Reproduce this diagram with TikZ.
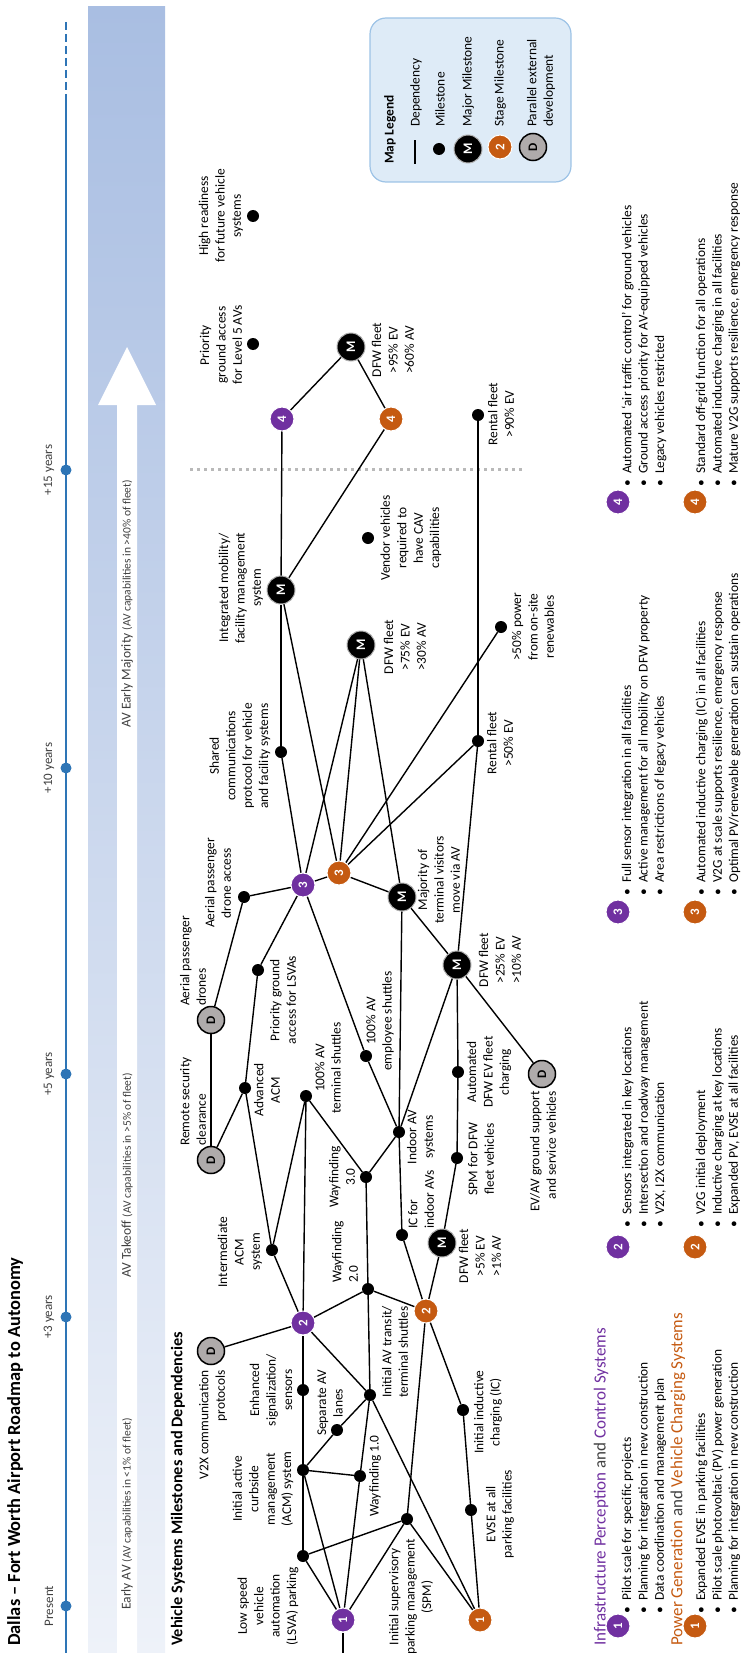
\documentclass[tikz,border=0pt]{standalone}
\usepackage{fontspec}
\setmainfont{Carlito}
\usepackage{xcolor}

\definecolor{purp}{HTML}{7030A0}
\definecolor{orng}{HTML}{C55A11}
\definecolor{tlblue}{HTML}{2E75B6}
\definecolor{legfill}{HTML}{DEEBF7}
\definecolor{legline}{HTML}{9DC3E6}
\definecolor{extgray}{HTML}{AFABAB}
\definecolor{darktext}{HTML}{404040}
\definecolor{bandtop}{HTML}{A9BEE2}
\definecolor{bandbot}{HTML}{EEF2F9}

\newcommand{\bitem}{\makebox[13pt][l]{\textbullet}}

\tikzset{
    txt/.style={rotate=90, align=center, inner sep=0pt, font=\fontsize{13.4}{16.4}\selectfont},
    bul/.style={txt, anchor=west, align=left},
    band/.style={txt, anchor=west, text=darktext, font=\fontsize{13.5}{14}\selectfont},
    ms/.style={circle, fill=black, minimum size=12pt, inner sep=0pt},
    major/.style={circle, fill=black, draw=gray!60, line width=1pt, minimum size=28pt, inner sep=0pt,
        rotate=90, text=white, font=\bfseries\fontsize{13}{13}\selectfont},
    stagep/.style={circle, fill=purp, draw=white, line width=1pt, minimum size=24pt, inner sep=0pt,
        rotate=90, text=white, font=\bfseries\fontsize{13}{13}\selectfont},
    stageo/.style={stagep, fill=orng},
    ext/.style={circle, fill=extgray, draw=black, line width=1.5pt, minimum size=27pt, inner sep=0pt,
        rotate=90, font=\bfseries\fontsize{13}{13}\selectfont},
    tldot/.style={circle, fill=tlblue, minimum size=11pt, inner sep=0pt},
    tl/.style={tlblue, line width=2pt},
    dep/.style={line width=1.4pt},
    legbox/.style={rounded corners=16pt, fill=legfill, draw=legline, line width=1.2pt}
}

\begin{document}
\begin{tikzpicture}[x=1pt, y=-1pt]
    \useasboundingbox (0,0) rectangle (740,1653);

    % Adoption band and white arrow
    \shade[top color=bandtop, bottom color=bandbot] (88,7) rectangle (165,1653);
    \fill[white] (117,1653) -- (117,405) -- (98,405) -- (127,347) -- (156,405) -- (137,405) -- (137,1653) -- cycle;
    \node[band] (early) at (127,1610) {Early AV {\fontsize{11.5}{12}\selectfont(AV capabilities in <1\% of fleet)}};
    \node[band] (takeoff) at (127,1278) {AV Takeoff {\fontsize{11.5}{12}\selectfont(AV capabilities in >5\% of fleet)}};
    \node[band] (majority) at (127,728) {AV Early Majority {\fontsize{11.5}{12}\selectfont(AV capabilities in >40\% of fleet)}};

    % Timeline
    \coordinate (tltop) at (66,22);
    \coordinate (tlmid) at (66,95);
    \coordinate (tlbot) at (66,1653);
    \draw[tl, dash pattern=on 8pt off 4pt] (tltop) -- (tlmid);
    \draw[tl] (tlmid) -- (tlbot);
    \node[tldot] (t0) at (66,1606) {};
    \node[tldot] (t3) at (66,1317) {};
    \node[tldot] (t5) at (66,1074) {};
    \node[tldot] (t10) at (66,768) {};
    \node[tldot] (t15) at (66,470) {};
    \node[txt, text=darktext, font=\fontsize{13}{14}\selectfont] (t0l) at (49,1606) {Present};
    \node[txt, text=darktext, font=\fontsize{13}{14}\selectfont] (t3l) at (49,1317) {+3 years};
    \node[txt, text=darktext, font=\fontsize{13}{14}\selectfont] (t5l) at (49,1074) {+5 years};
    \node[txt, text=darktext, font=\fontsize{13}{14}\selectfont] (t10l) at (49,768) {+10 years};
    \node[txt, text=darktext, font=\fontsize{13}{14}\selectfont] (t15l) at (49,470) {+15 years};

    % Titles
    \node[txt, anchor=west, font=\bfseries\fontsize{18.4}{20}\selectfont] (title) at (15,1646) {Dallas -- Fort Worth Airport Roadmap to Autonomy};
    \node[txt, anchor=west, font=\bfseries\fontsize{16.3}{18}\selectfont] (vsmd) at (178,1646) {Vehicle Systems Milestones and Dependencies};

    % +15 years divider
    \draw[gray!55, line width=3pt, dash pattern=on 3pt off 4pt] (190,469) -- (525,469);

    % Map legend
    \draw[legbox] (370,18) rectangle (571,182);
    \node[txt, anchor=west, font=\bfseries\fontsize{13.4}{16}\selectfont] (legtitle) at (390,164) {Map Legend};
    \coordinate (lga) at (415,164);
    \coordinate (lgb) at (415,140);
    \draw[dep] (lga) -- (lgb);
    \node[ms] (lgms) at (439,149) {};
    \node[major] (lgmaj) at (468,149) {M};
    \node[stageo] (lgstage) at (500,147) {2};
    \node[ext] (lgext) at (533,147) {D};
    \node[txt, anchor=west] (lgt1) at (416,127) {Dependency};
    \node[txt, anchor=west] (lgt2) at (440,127) {Milestone};
    \node[txt, anchor=west] (lgt3) at (468,127) {Major Milestone};
    \node[txt, anchor=west] (lgt4) at (500,127) {Stage Milestone};
    \node[txt, anchor=west, align=left] (lgt5) at (541,127) {Parallel external\\development};

    % Milestones
    \coordinate (start) at (343,1653);
    \node[stagep] (p1) at (343,1620) {1};
    \node[stageo] (o1) at (480,1620) {1};
    \node[ms] (lsva) at (303,1556) {};
    \node[ms] (acm) at (303,1470) {};
    \node[ms] (sig) at (303,1390) {};
    \node[ext] (v2x) at (211,1351) {D};
    \node[stagep] (p2) at (303,1323) {2};
    \node[ms] (lanes) at (337,1430) {};
    \node[ms] (wf1) at (360,1476) {};
    \node[ms] (spm) at (407,1519) {};
    \node[ms] (avt) at (370,1395) {};
    \node[ms] (wf2) at (368,1289) {};
    \node[stageo] (o2) at (426,1311) {2};
    \node[ms] (ic) at (463,1410) {};
    \node[ms] (evse) at (471,1510) {};
    \node[ms] (iacm) at (272,1250) {};
    \node[major] (fleet5) at (442,1243) {M};
    \node[ms] (icin) at (402,1235) {};
    \node[stagep] (p3) at (303,885) {3};
    \node[stageo] (o3) at (339,873) {3};
    \node[ms] (droneacc) at (244,897) {};
    \node[major] (visit) at (402,897) {M};
    \node[major] (fleet25) at (457,965) {M};
    \node[ext] (drones) at (211,1020) {D};
    \node[ms] (prio) at (258,970) {};
    \node[ext] (secur) at (211,1160) {D};
    \node[ms] (aacm) at (245,1088) {};
    \node[ms] (shut) at (306,1096) {};
    \node[ms] (emp) at (366,1056) {};
    \node[ms] (wf3) at (366,1177) {};
    \node[ms] (indoor) at (399,1132) {};
    \node[ms] (spmdfw) at (457,1158) {};
    \node[ms] (charge) at (458,1072) {};
    \node[ext] (gse) at (542,1074) {D};
    \node[stagep] (p4) at (282,419) {4};
    \node[stageo] (o4) at (391,419) {4};
    \node[ms] (rent90) at (478,415) {};
    \node[major] (imfm) at (281,590) {M};
    \node[ms] (vendor) at (368,538) {};
    \node[major] (fleet75) at (361,645) {M};
    \node[ms] (power) at (501,627) {};
    \node[ms] (shared) at (281,752) {};
    \node[ms] (rent50) at (478,741) {};
    \node[ms] (ready) at (253,216) {};
    \node[ms] (lvl5) at (253,344) {};
    \node[major] (fleet95) at (351,347) {M};

    % Dependencies
    \draw[dep] (start) -- (p1);
    \draw[dep] (p1) -- (lsva);
    \draw[dep] (p1) -- (acm);
    \draw[dep] (p1) -- (wf1);
    \draw[dep] (p1) -- (spm);
    \draw[dep] (lsva) -- (acm);
    \draw[dep] (acm) -- (sig);
    \draw[dep] (sig) -- (p2);
    \draw[dep] (lsva) -- (spm);
    \draw[dep] (acm) -- (wf1);
    \draw[dep] (acm) -- (lanes);
    \draw[dep] (lanes) -- (avt);
    \draw[dep] (wf1) -- (avt);
    \draw[dep] (p2) -- (avt);
    \draw[dep] (avt) -- (o1);
    \draw[dep] (spm) -- (o1);
    \draw[dep] (spm) -- (o2);
    \draw[dep] (avt) -- (wf2);
    \draw[dep] (wf2) -- (p2);
    \draw[dep] (wf2) -- (o2);
    \draw[dep] (wf2) -- (wf3);
    \draw[dep] (o1) -- (evse);
    \draw[dep] (evse) -- (ic);
    \draw[dep] (ic) -- (o2);
    \draw[dep] (o2) -- (icin);
    \draw[dep] (o2) -- (fleet5);
    \draw[dep] (p2) -- (iacm);
    \draw[dep] (p2) -- (v2x);
    \draw[dep] (p2) -- (shut);
    \draw[dep] (iacm) -- (aacm);
    \draw[dep] (iacm) -- (shut);
    \draw[dep] (aacm) -- (secur);
    \draw[dep] (aacm) -- (prio);
    \draw[dep] (prio) -- (p3);
    \draw[dep] (secur) -- (drones);
    \draw[dep] (drones) -- (droneacc);
    \draw[dep] (droneacc) -- (p3);
    \draw[dep] (shut) -- (wf3);
    \draw[dep] (wf3) -- (indoor);
    \draw[dep] (indoor) -- (emp);
    \draw[dep] (emp) -- (p3);
    \draw[dep] (indoor) -- (visit);
    \draw[dep] (indoor) -- (icin);
    \draw[dep] (indoor) -- (fleet25);
    \draw[dep] (visit) -- (fleet25);
    \draw[dep] (fleet25) -- (gse);
    \draw[dep] (fleet25) -- (charge);
    \draw[dep] (charge) -- (spmdfw);
    \draw[dep] (spmdfw) -- (fleet5);
    \draw[dep] (p3) -- (o3);
    \draw[dep] (o3) -- (visit);
    \draw[dep] (fleet25) -- (rent50);
    \draw[dep] (fleet75) -- (visit);
    \draw[dep] (fleet75) -- (p3);
    \draw[dep] (fleet75) -- (o3);
    \draw[dep] (imfm) -- (o3);
    \draw[dep] (power) -- (o3);
    \draw[dep] (rent50) -- (o3);
    \draw[dep] (shared) -- (p3);
    \draw[dep] (shared) -- (imfm);
    \draw[dep] (imfm) -- (p4);
    \draw[dep] (imfm) -- (o4);
    \draw[dep] (rent50) -- (rent90);
    \draw[dep] (p4) -- (fleet95);
    \draw[dep] (o4) -- (fleet95);

    % Milestone labels
    \node[txt] (lsva-t) at (268,1606) {Low speed\\vehicle\\automation\\(LSVA) parking};
    \node[txt] (acm-t) at (263,1489) {Initial active\\curbside\\management\\(ACM) system};
    \node[txt] (sig-t) at (271,1390) {Enhanced\\signalization/\\sensors};
    \node[txt, anchor=east, align=right] (v2x-t) at (213,1370) {V2X communication\\protocols};
    \node[txt] (lanes-t) at (330,1403) {Separate AV\\lanes};
    \node[txt] (wf1-t) at (375,1476) {Wayfinding 1.0};
    \node[txt] (spm-t) at (411,1597) {Initial supervisory\\parking management\\(SPM)};
    \node[txt] (avt-t) at (395,1352) {Initial AV transit/\\terminal shuttles};
    \node[txt, anchor=west, align=left] (wf2-t) at (345,1283) {Wayfinding\\2.0};
    \node[txt] (ic-t) at (488,1412) {Initial inductive\\charging (IC)};
    \node[txt] (evse-t) at (500,1514) {EVSE at all\\parking facilities};
    \node[txt] (iacm-t) at (240,1252) {Intermediate\\ACM\\system};
    \node[txt] (fleet5-t) at (480,1256) {DFW fleet\\>5\% EV\\>1\% AV};
    \node[txt, anchor=west, align=left] (icin-t) at (421,1229) {IC for\\indoor AVs};
    \node[txt] (droneacc-t) at (218,883) {Aerial passenger\\drone access};
    \node[txt] (visit-t) at (439,880) {Majority of\\terminal visitors\\move via AV};
    \node[txt] (fleet25-t) at (500,960) {DFW fleet\\>25\% EV\\>10\% AV};
    \node[txt, anchor=west, align=left] (drones-t) at (193,1006) {Aerial passenger\\drones};
    \node[txt] (prio-t) at (283,1000) {Priority ground\\access for LSVAs};
    \node[txt, anchor=west, align=left] (secur-t) at (193,1146) {Remote security\\clearance};
    \node[txt] (aacm-t) at (267,1090) {Advanced\\ACM};
    \node[txt] (shut-t) at (328,1068) {100\% AV\\terminal shuttles};
    \node[txt] (emp-t) at (380,1021) {100\% AV\\employee shuttles};
    \node[txt] (wf3-t) at (342,1177) {Wayfinding\\3.0};
    \node[txt] (indoor-t) at (421,1137) {Indoor AV\\systems};
    \node[txt] (spmdfw-t) at (481,1159) {SPM for DFW\\fleet vehicles};
    \node[txt] (charge-t) at (489,1072) {Automated\\DFW EV fleet\\charging};
    \node[txt, anchor=east, align=right] (gse-t) at (543,1091) {EV/AV ground support\\and service vehicles};
    \node[txt] (imfm-t) at (241,588) {Integrated mobility/\\facility management\\system};
    \node[txt] (vendor-t) at (411,538) {Vendor vehicles\\required to\\have CAV\\capabilities};
    \node[txt] (fleet75-t) at (405,647) {DFW fleet\\>75\% EV\\>30\% AV};
    \node[txt] (power-t) at (533,627) {>50\% power\\from on-site\\renewables};
    \node[txt] (shared-t) at (240,756) {Shared\\communications\\protocol for vehicle\\and facility systems};
    \node[txt] (rent50-t) at (500,743) {Rental fleet\\>50\% EV};
    \node[txt] (rent90-t) at (501,414) {Rental fleet\\>90\% EV};
    \node[txt] (ready-t) at (221,216) {High readiness\\for future vehicle\\systems};
    \node[txt] (lvl5-t) at (221,345) {Priority\\ground access\\for Level 5 AVs};
    \node[txt] (fleet95-t) at (393,350) {DFW fleet\\>95\% EV\\>60\% AV};

    % Infrastructure stages
    \node[txt, anchor=west, font=\fontsize{17}{20}\selectfont] (infra) at (601,1646) {\textcolor{purp}{Infrastructure Perception} \textcolor{darktext}{and} \textcolor{purp}{Control Systems}};
    \node[stagep] (ip1) at (618,1626) {1};
    \node[stagep] (ip2) at (618,1247) {2};
    \node[stagep] (ip3) at (618,912) {3};
    \node[stagep] (ip4) at (618,502) {4};
    \node[bul] (ip1-t) at (644,1614) {\bitem Pilot scale for specific projects\\\bitem Planning for integration in new construction\\\bitem Data coordination and management plan};
    \node[bul] (ip2-t) at (644,1228) {\bitem Sensors integrated in key locations\\\bitem Intersection and roadway management\\\bitem V2X, I2X communication};
    \node[bul] (ip3-t) at (644,896) {\bitem Full sensor integration in all facilities\\\bitem Active management for all mobility on DFW property\\\bitem Area restrictions of legacy vehicles};
    \node[bul] (ip4-t) at (644,487) {\bitem Automated `air traffic control' for ground vehicles\\\bitem Ground access priority for AV-equipped vehicles\\\bitem Legacy vehicles restricted};

    % Power generation stages
    \node[txt, anchor=west, font=\fontsize{17}{20}\selectfont] (powgen) at (678,1646) {\textcolor{orng}{Power Generation} \textcolor{darktext}{and} \textcolor{orng}{Vehicle Charging Systems}};
    \node[stageo] (op1) at (695,1626) {1};
    \node[stageo] (op2) at (695,1247) {2};
    \node[stageo] (op3) at (695,912) {3};
    \node[stageo] (op4) at (695,502) {4};
    \node[bul] (op1-t) at (718,1614) {\bitem Expanded EVSE in parking facilities\\\bitem Pilot scale photovoltaic (PV) power generation\\\bitem Planning for integration in new construction};
    \node[bul] (op2-t) at (718,1228) {\bitem V2G initial deployment\\\bitem Inductive charging at key locations\\\bitem Expanded PV, EVSE at all facilities};
    \node[bul] (op3-t) at (718,896) {\bitem Automated inductive charging (IC) in all facilities\\\bitem V2G at scale supports resilience, emergency response\\\bitem Optimal PV/renewable generation can sustain operations};
    \node[bul] (op4-t) at (718,487) {\bitem Standard off-grid function for all operations\\\bitem Automated inductive charging in all facilities\\\bitem Mature V2G supports resilience, emergency response};
\end{tikzpicture}
\end{document}
